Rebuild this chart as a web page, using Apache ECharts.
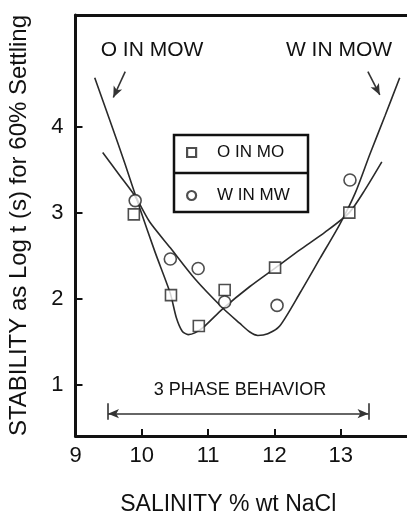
<!DOCTYPE html>
<html><head><meta charset="utf-8">
<script src="https://cdn.jsdelivr.net/npm/echarts@6/dist/echarts.min.js"></script>
<style>html,body{margin:0;padding:0;background:#fff}#c{width:407px;height:513px}</style>
</head><body><div id="c"></div>
<script>
// ---- tick labels ----
const xTickValues = [9, 10, 11, 12, 13];
const xTickMarks = [10, 11, 12, 13];
const yTickValues = [1, 2, 3, 4];

// ---- measured points ----
const oInMoX = [9.88, 10.44, 10.86, 11.25, 12.01, 13.13];
const oInMoY = [2.98, 2.04, 1.68, 2.10, 2.36, 3.00];
const wInMwX = [9.90, 10.43, 10.85, 11.25, 12.04, 13.14];
const wInMwY = [3.14, 2.46, 2.35, 1.96, 1.92, 3.38];

// ---- drawn curves ----
const oInMowX = [9.29, 9.52, 9.75, 9.97, 10.20, 10.43, 10.52, 10.61, 10.70, 10.80, 10.95, 11.22, 11.63, 12.02, 12.39, 12.76, 13.13, 13.37, 13.62];
const oInMowY = [4.57, 4.07, 3.56, 3.05, 2.54, 2.06, 1.78, 1.62, 1.58, 1.60, 1.68, 1.88, 2.14, 2.36, 2.57, 2.77, 3.00, 3.27, 3.59];
const wInMowX = [9.41, 9.67, 9.90, 10.12, 10.43, 10.80, 11.22, 11.48, 11.63, 11.75, 11.90, 12.08, 12.39, 12.69, 12.99, 13.22, 13.44, 13.67, 13.89];
const wInMowY = [3.70, 3.43, 3.19, 2.89, 2.59, 2.23, 1.89, 1.71, 1.61, 1.57, 1.59, 1.68, 2.07, 2.47, 2.87, 3.23, 3.68, 4.13, 4.57];

// ---- annotations (data coordinates) ----
const arrowOInMow = [[9.75, 4.64], [9.57, 4.34]];
const arrowWInMow = [[13.41, 4.64], [13.59, 4.37]];
const phaseRange = [9.49, 13.42];
const phaseY = 0.66;
const phaseBar = [0.59, 0.78];

const FONT = '"Liberation Sans", Arial, Helvetica, sans-serif';
const INK = '#111';
const zip = (xs, ys) => xs.map((x, i) => [x, ys[i]]);

const chart = echarts.init(document.getElementById('c'), null, { renderer: 'canvas' });

const markLineData = [
  [{ coord: arrowOInMow[0], symbol: 'none' }, { coord: arrowOInMow[1], symbol: 'arrow', symbolSize: [7, 11] }],
  [{ coord: arrowWInMow[0], symbol: 'none' }, { coord: arrowWInMow[1], symbol: 'arrow', symbolSize: [7, 11] }],
  [{ coord: [phaseRange[0], phaseY], symbol: 'arrow', symbolSize: [7, 11] }, { coord: [phaseRange[1], phaseY], symbol: 'arrow', symbolSize: [7, 11] }],
  [{ coord: [phaseRange[0], phaseBar[0]], symbol: 'none' }, { coord: [phaseRange[0], phaseBar[1]], symbol: 'none' }],
  [{ coord: [phaseRange[1], phaseBar[0]], symbol: 'none' }, { coord: [phaseRange[1], phaseBar[1]], symbol: 'none' }]
];

chart.setOption({
  animation: false,
  backgroundColor: '#fff',
  textStyle: { fontFamily: FONT },
  grid: { left: 75.5, right: 0, top: 15, bottom: 77, outerBoundsMode: 'none' },
  xAxis: [{
    type: 'value', min: 9, max: 14, position: 'bottom',
    axisLine: { show: true, onZero: false, lineStyle: { color: INK, width: 3 } },
    axisTick: { show: true, inside: true, length: 7, customValues: xTickMarks, lineStyle: { color: INK, width: 2 } },
    axisLabel: { show: true, customValues: xTickValues, margin: 9, fontSize: 22, color: INK, fontFamily: FONT },
    splitLine: { show: false },
    name: 'SALINITY % wt NaCl', nameLocation: 'middle', nameGap: 57,
    nameTextStyle: { fontSize: 23, color: INK, fontFamily: FONT, padding: [0, 26, 0, 0] }
  }, {
    type: 'value', min: 9, max: 14, position: 'top',
    axisLine: { show: true, onZero: false, lineStyle: { color: INK, width: 3 } },
    axisTick: { show: false }, axisLabel: { show: false }, splitLine: { show: false }
  }],
  yAxis: {
    type: 'value', min: 0.4, max: 5.3, position: 'left',
    axisLine: { show: true, onZero: false, lineStyle: { color: INK, width: 3 } },
    axisTick: { show: true, inside: true, length: 7, customValues: yTickValues, lineStyle: { color: INK, width: 2 } },
    axisLabel: { show: true, inside: false, customValues: yTickValues, margin: 12, fontSize: 22, color: INK, fontFamily: FONT },
    splitLine: { show: false },
    name: 'STABILITY as Log t (s) for 60% Settling', nameLocation: 'middle', nameGap: 44, nameRotate: 90,
    nameTextStyle: { fontSize: 24, color: INK, fontFamily: FONT }
  },
  legend: {
    orient: 'vertical', left: 186, top: 144, padding: 0,
    itemWidth: 9, itemHeight: 9, itemGap: 26, selectedMode: false,
    data: ['O IN MO', 'W IN MW'],
    itemStyle: { color: '#fff', borderColor: '#222', borderWidth: 2.2 },
    textStyle: { fontSize: 17, color: INK, fontFamily: FONT, padding: [0, 0, 0, 16] }
  },
  graphic: [
    { type: 'rect', z: 5, shape: { x: 174, y: 135, width: 134, height: 77 }, style: { fill: 'none', stroke: INK, lineWidth: 2.5 } },
    { type: 'line', z: 5, shape: { x1: 174, y1: 173, x2: 308, y2: 173 }, style: { stroke: INK, lineWidth: 2.5 } },
    { type: 'text', z: 5, style: { text: 'O IN MOW', x: 152, y: 50, align: 'center', verticalAlign: 'middle', font: '21px ' + FONT, fill: INK } },
    { type: 'text', z: 5, style: { text: 'W IN MOW', x: 339, y: 50, align: 'center', verticalAlign: 'middle', font: '21px ' + FONT, fill: INK } },
    { type: 'text', z: 5, style: { text: '3 PHASE BEHAVIOR', x: 240, y: 390, align: 'center', verticalAlign: 'middle', font: '18px ' + FONT, fill: INK } }
  ],
  series: [
    {
      name: 'O IN MOW', type: 'line', data: zip(oInMowX, oInMowY),
      showSymbol: false, symbol: 'none', smooth: 0.25,
      lineStyle: { color: '#2a2a2a', width: 1.6 }, z: 2, silent: true
    },
    {
      name: 'W IN MOW', type: 'line', data: zip(wInMowX, wInMowY),
      showSymbol: false, symbol: 'none', smooth: 0.25,
      lineStyle: { color: '#2a2a2a', width: 1.6 }, z: 2, silent: true
    },
    {
      name: 'O IN MO', type: 'scatter', data: zip(oInMoX, oInMoY),
      symbol: 'rect', symbolSize: 11,
      itemStyle: { color: '#fff', borderColor: '#222', borderWidth: 1.6 }, z: 3
    },
    {
      name: 'W IN MW', type: 'scatter', data: zip(wInMwX, wInMwY),
      symbol: 'circle', symbolSize: 12,
      itemStyle: { color: '#fff', borderColor: '#222', borderWidth: 1.6 }, z: 3,
      markLine: {
        silent: true, animation: false,
        label: { show: false },
        lineStyle: { color: '#333', width: 1.6, type: 'solid' },
        emphasis: { disabled: true },
        data: markLineData
      }
    }
  ]
});
</script>
</body></html>
